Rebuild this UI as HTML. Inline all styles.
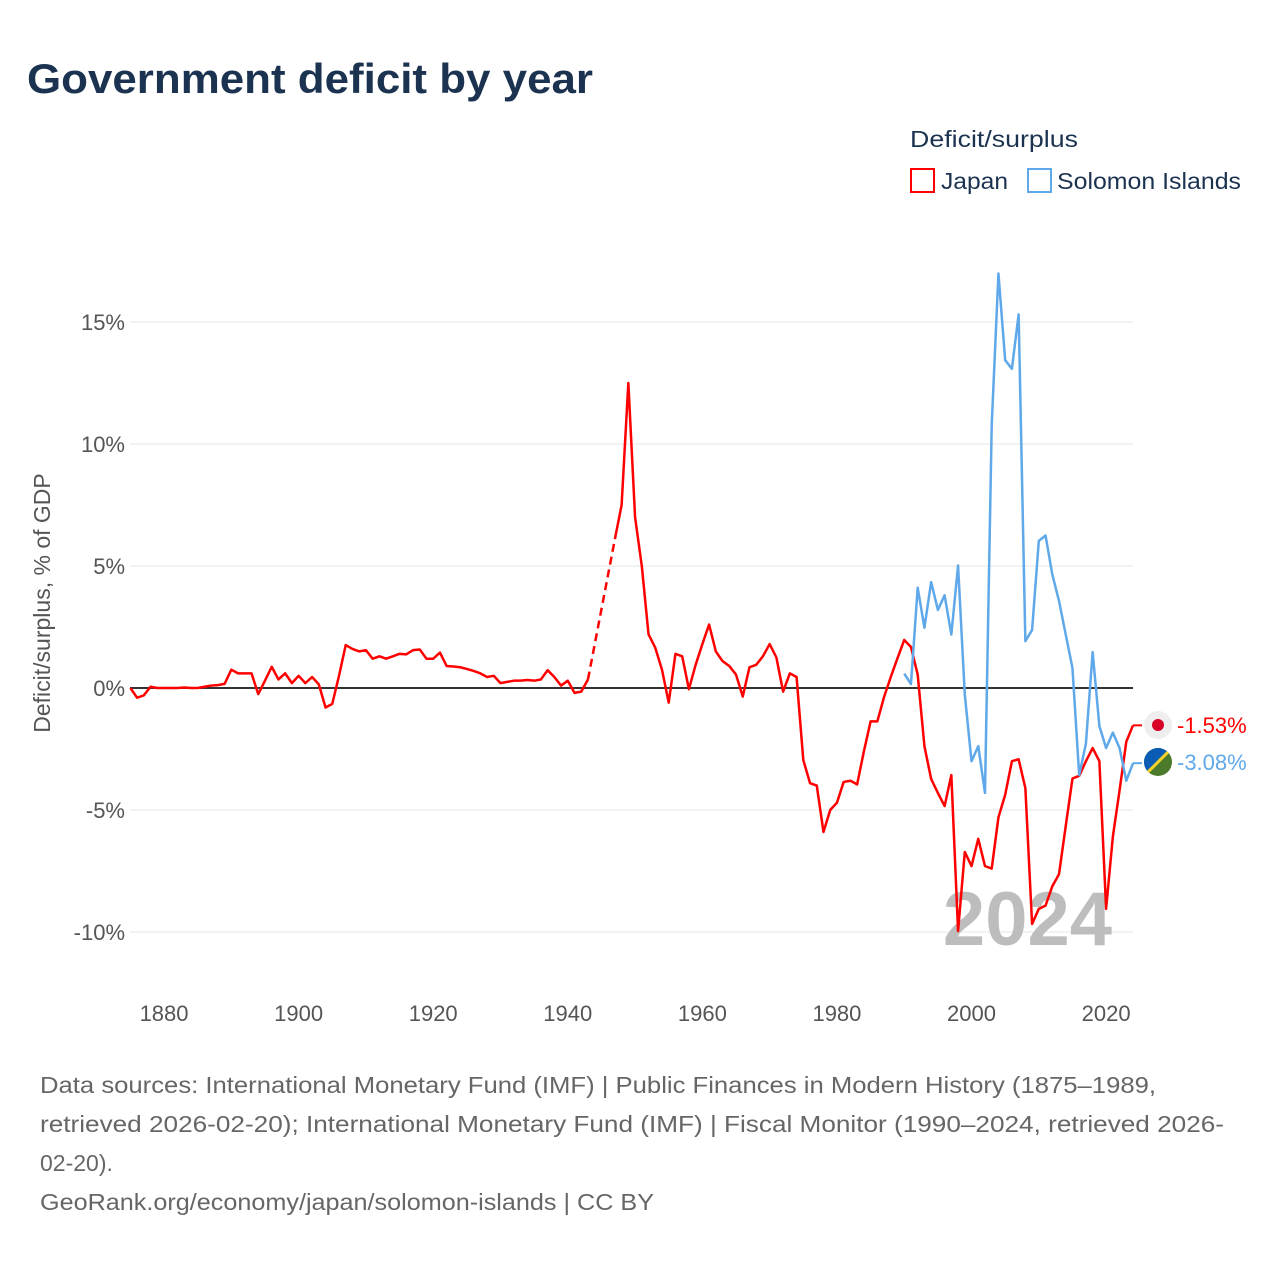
<!DOCTYPE html>
<html><head><meta charset="utf-8"><style>
html,body{margin:0;padding:0;background:#fff;}
svg{display:block;font-family:"Liberation Sans",sans-serif;}
</style></head><body>
<svg id="chart" width="1280" height="1280" viewBox="0 0 1280 1280" xmlns="http://www.w3.org/2000/svg">
<text x="27" y="93" font-size="42" font-weight="bold" fill="#1b3350" textLength="566" lengthAdjust="spacingAndGlyphs">Government deficit by year</text>
<g>
<text x="910" y="147" font-size="23" fill="#1b3350" textLength="168" lengthAdjust="spacingAndGlyphs">Deficit/surplus</text>
<g><rect x="911" y="169" width="23" height="23" fill="none" stroke="#f00" stroke-width="2"/><text x="941" y="189" font-size="23" fill="#1b3350" textLength="67" lengthAdjust="spacingAndGlyphs">Japan</text></g>
<g><rect x="1028" y="169" width="23" height="23" fill="none" stroke="#5fa8ea" stroke-width="2"/><text x="1057" y="189" font-size="23" fill="#1b3350" textLength="184" lengthAdjust="spacingAndGlyphs">Solomon Islands</text></g>
</g>
<g id="grid"></g>
<text transform="translate(50,603) rotate(-90)" text-anchor="middle" font-size="23" fill="#555">Deficit/surplus, % of GDP</text>
<text x="1112" y="945" text-anchor="end" font-size="76" font-weight="bold" fill="#bdbdbd">2024</text>
<g id="series"></g>
<g>
<g><circle cx="1158" cy="725" r="14" fill="#eee"/><circle cx="1158" cy="725" r="6" fill="#d80027"/></g>
<text id="jpLabel" x="1177" y="733" font-size="22" fill="#f00">-1.53%</text>
<g>
<clipPath id="sc"><circle cx="1158" cy="762" r="14"/></clipPath>
<g clip-path="url(#sc)"><rect x="1144" y="748" width="28" height="28" fill="#4a7a2a"/><polygon points="1144,748 1172,748 1144,776" fill="#0b5cb5"/><line x1="1144" y1="776" x2="1172" y2="748" stroke="#f5d32a" stroke-width="3"/></g>
</g>
<text id="sbLabel" x="1177" y="770" font-size="22" fill="#5fa8ea">-3.08%</text>
</g>
<g font-size="23" fill="#666">
<text x="40" y="1093" textLength="1116" lengthAdjust="spacingAndGlyphs">Data sources: International Monetary Fund (IMF) | Public Finances in Modern History (1875–1989,</text>
<text x="40" y="1132" textLength="1184" lengthAdjust="spacingAndGlyphs">retrieved 2026-02-20); International Monetary Fund (IMF) | Fiscal Monitor (1990–2024, retrieved 2026-</text>
<text x="40" y="1171">02-20).</text>
<text x="40" y="1210" textLength="614" lengthAdjust="spacingAndGlyphs">GeoRank.org/economy/japan/solomon-islands | CC BY</text>
</g>
</svg>
<script>
const yTicks = [15, 10, 5, 0, -5, -10];
const xTicks = [1880, 1900, 1920, 1940, 1960, 1980, 2000, 2020];
const japanStart = 1875;
const japanValues = [0,-0.4,-0.3,0.05,0,0,0,0,0.02,0,0,0.05,0.1,0.12,0.17,0.75,0.6,0.6,0.6,-0.25,0.3,0.87,0.35,0.6,0.2,0.5,0.2,0.45,0.15,-0.8,-0.65,0.5,1.76,1.6,1.5,1.55,1.2,1.3,1.2,1.3,1.4,1.38,1.55,1.58,1.2,1.2,1.45,0.9,0.88,0.85,0.78,0.7,0.6,0.45,0.5,0.2,0.25,0.3,0.3,0.33,0.3,0.35,0.73,0.45,0.1,0.3,-0.2,-0.15,0.35,null,null,null,6.1,7.5,12.5,7.0,5.0,2.2,1.65,0.75,-0.6,1.4,1.3,-0.05,0.95,1.8,2.6,1.5,1.1,0.9,0.55,-0.35,0.85,0.95,1.3,1.8,1.25,-0.15,0.6,0.45,-2.95,-3.9,-4.0,-5.9,-5.0,-4.7,-3.85,-3.8,-3.95,-2.6,-1.37,-1.37,-0.37,0.45,1.22,1.97,1.68,0.55,-2.38,-3.73,-4.3,-4.84,-3.57,-9.96,-6.72,-7.3,-6.18,-7.3,-7.4,-5.3,-4.38,-3.0,-2.92,-4.1,-9.67,-9.05,-8.92,-8.13,-7.63,-5.66,-3.71,-3.6,-3.0,-2.46,-3.0,-9.05,-6.1,-4.2,-2.2,-1.53];
const solomonStart = 1990;
const solomonValues = [0.59,0.16,4.11,2.47,4.34,3.2,3.8,2.19,5.02,-0.27,-3.0,-2.38,-4.3,10.78,16.99,13.44,13.08,15.31,1.92,2.38,6.03,6.25,4.66,3.57,2.19,0.82,-3.57,-2.28,1.47,-1.56,-2.46,-1.83,-2.46,-3.8,-3.08];

const X0 = 130.4, XPY = 6.729, Y0 = 688, YPP = 24.4, XL = 130, XR = 1133;
const xs = y => X0 + (y - 1875) * XPY;
const ys = v => Y0 - v * YPP;
const NS = 'http://www.w3.org/2000/svg';
const grid = document.getElementById('grid');
const series = document.getElementById('series');
function mk(tag, attrs, parent){const e=document.createElementNS(NS,tag);for(const k in attrs)e.setAttribute(k,attrs[k]);parent.appendChild(e);return e;}

yTicks.forEach(t => {
  if (t !== 0) {
    const l = mk('line',{x1:XL,x2:XR,y1:ys(t),y2:ys(t),stroke:'#e6e6e6','stroke-width':1},grid);
    
    
  }
  const tx = mk('text',{x:125,y:ys(t)+8,'text-anchor':'end','font-size':22,fill:'#555'},grid);
  tx.textContent = t + '%';
  
  
});
xTicks.forEach(t => {
  const tx = mk('text',{x:xs(t),y:1021,'text-anchor':'middle','font-size':22,fill:'#555'},grid);
  tx.textContent = t;
  
  
});

function drawSeries(start, vals, color, name){
  let segs=[], cur=[], lastPt=null, gaps=[];
  vals.forEach((v,i)=>{
    const yr=start+i;
    if(v===null){ if(cur.length){segs.push(cur);cur=[];} return; }
    const p=[xs(yr),ys(v)];
    if(cur.length===0 && lastPt && (yr - lastPt.yr)>1) gaps.push([lastPt.p,p]);
    cur.push(p); lastPt={yr,p};
  });
  if(cur.length) segs.push(cur);
  segs.forEach(s=>{
    const pl=mk('polyline',{points:s.map(p=>p.join(',')).join(' '),fill:'none',stroke:color,'stroke-width':2.5,'stroke-linejoin':'round'},series);
    
    
  });
  gaps.forEach(g=>{
    const gl=mk('line',{x1:g[0][0],y1:g[0][1],x2:g[1][0],y2:g[1][1],stroke:color,'stroke-width':2.5,'stroke-dasharray':'8,5'},series);
    
    
  });
  const last=segs[segs.length-1][segs[segs.length-1].length-1];
  const tail=mk('line',{x1:last[0],y1:last[1],x2:1142,y2:last[1],stroke:color,'stroke-width':2},series);
  
  
  return last;
}
const zl = mk('line',{x1:XL,x2:XR,y1:ys(0),y2:ys(0),stroke:'#333','stroke-width':2},grid);


drawSeries(japanStart, japanValues, '#ff0000', 'japan');
drawSeries(solomonStart, solomonValues, '#5fa8ea', 'solomon-islands');
</script>
</body></html>
